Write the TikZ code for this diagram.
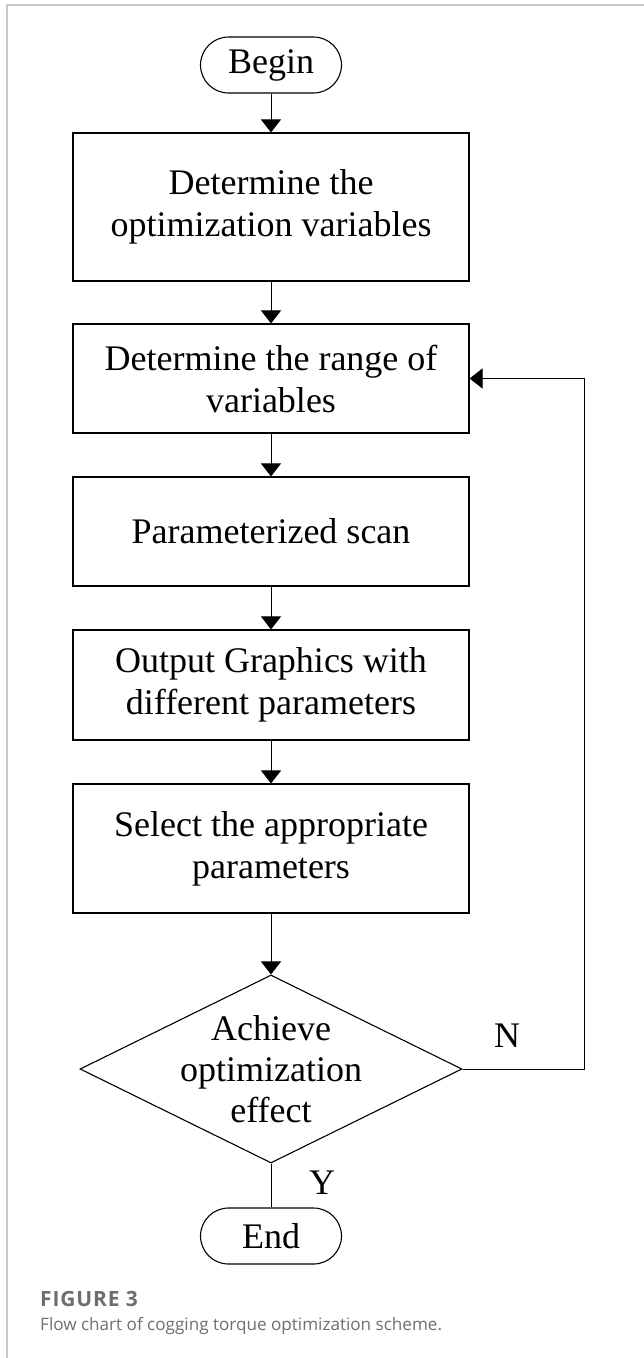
\documentclass[tikz,border=0pt]{standalone}
\usepackage{fontspec}
\setmainfont{Liberation Serif}
\newfontfamily\capfont{Open Sans}
\newfontfamily\capfontwide[LetterSpace=4]{Open Sans}
\usetikzlibrary{shapes.geometric,arrows.meta}

\definecolor{framegray}{HTML}{C8C8C8}
\definecolor{captiongray}{HTML}{6E6E6E}

\tikzset{
  base/.style={draw=black, line width=1.1pt, align=center, inner sep=0pt,
    font=\fontsize{36}{42}\selectfont},
  procbox/.style={base, rectangle, minimum width=396pt},
  terminal/.style={base, rectangle, rounded corners=28pt,
    minimum width=141pt, minimum height=56pt},
  decision/.style={base, diamond, minimum width=382pt, minimum height=188pt},
  flow/.style={line width=1pt, -{Triangle[length=13pt,width=20pt]}},
  plain/.style={line width=1pt},
  lbl/.style={font=\fontsize{36}{42}\selectfont, inner sep=0pt},
}

\begin{document}
\begin{tikzpicture}[x=1pt, y=-1pt]
  \useasboundingbox (0,0) rectangle (644,1358);

  % page frame
  \draw[framegray, line width=1.5pt] (7,1358) -- (7,5) -- (644,5);

  % flow chart nodes
  \node[terminal] (begin) at (271,65) {Begin};
  \node[procbox, minimum height=148pt] (b1) at (271,207) {Determine the\\optimization variables};
  \node[procbox, minimum height=109pt] (b2) at (271,378.5) {Determine the range of\\variables};
  \node[procbox, minimum height=109pt] (b3) at (271,531.5) {Parameterized scan};
  \node[procbox, minimum height=110pt] (b4) at (271,685) {Output Graphics with\\different parameters};
  \node[procbox, minimum height=129pt] (b5) at (271,848.5) {Select the appropriate\\parameters};
  \node[decision] (dec) at (271,1069) {};
  \node[lbl, align=center, font=\fontsize{36}{41}\selectfont] (dectext) at (271,1069) {Achieve\\optimization\\effect};
  \node[terminal] (end) at (271,1236) {End};

  % connectors
  \draw[flow] (begin.south) -- (b1.north);
  \draw[flow] (b1.south) -- (b2.north);
  \draw[flow] (b2.south) -- (b3.north);
  \draw[flow] (b3.south) -- (b4.north);
  \draw[flow] (b4.south) -- (b5.north);
  \draw[flow] (b5.south) -- (dec.north);
  \coordinate (loop) at (584,1069);
  \draw[flow] (dec.east) -- (loop) |- (b2.east);
  \draw[plain] (dec.south) -- (end.north);

  % branch labels
  \node[lbl] (nlabel) at (507,1036) {N};
  \node[lbl] (ylabel) at (322,1183) {Y};

  % caption
  \node[anchor=base west, inner sep=0pt, text=captiongray,
        font=\capfontwide\bfseries\fontsize{21}{24}\selectfont] (figno) at (40,1306) {FIGURE 3};
  \node[anchor=base west, inner sep=0pt, text=captiongray,
        font=\capfont\fontsize{17.1}{20}\selectfont] (figcap) at (40,1330) {Flow chart of cogging torque optimization scheme.};
\end{tikzpicture}
\end{document}
